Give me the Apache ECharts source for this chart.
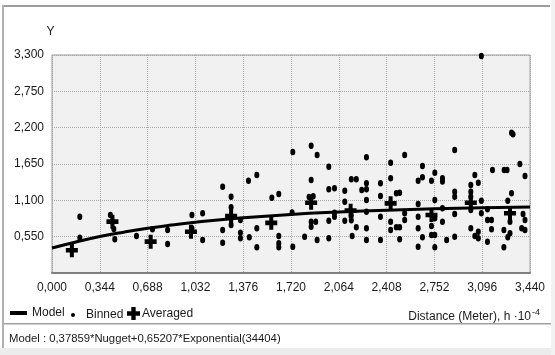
<!DOCTYPE html>
<html>
<head>
<meta charset="utf-8">
<script src="https://cdn.jsdelivr.net/npm/echarts@6/dist/echarts.min.js"></script>
<style>
html,body{margin:0;padding:0;background:#fff;}
#c{width:555px;height:355px;}
</style>
</head>
<body>
<div id="c"></div>
<script>
// x tick labels (distance, h·10^-4) and y tick labels
const xTicks = ['0,000','0,344','0,688','1,032','1,376','1,720','2,064','2,408','2,752','3,096','3,440'];
const yTicks = ['0,550','1,100','1,650','2,200','2,750','3,300'];

// Binned semivariance cloud
const binnedX = [0.200,0.200,0.420,0.435,0.445,0.452,0.608,0.723,0.832,0.832,1.007,1.007,1.084,1.084,1.228,1.228,1.228,1.289,1.289,1.289,1.356,1.356,1.356,1.414,1.474,1.474,1.474,1.420,1.582,1.632,1.632,1.632,1.632,1.733,1.728,1.733,1.908,1.865,1.992,1.865,1.850,1.880,1.865,1.865,1.898,1.818,1.908,1.992,2.033,1.992,1.992,2.033,2.033,2.107,2.107,2.107,2.154,2.190,2.154,2.154,2.160,2.190,2.263,2.263,2.263,2.263,2.263,2.263,2.263,2.229,2.364,2.364,2.364,2.364,2.437,2.437,2.538,2.478,2.502,2.437,2.437,2.478,2.502,2.502,2.538,2.538,2.666,2.666,2.635,2.755,2.731,2.810,2.810,2.635,2.635,2.635,2.666,2.635,2.755,2.755,2.731,2.755,2.731,2.755,2.810,2.810,2.840,2.898,2.898,2.898,2.898,2.898,3.043,3.068,3.014,3.014,3.014,3.014,3.014,3.090,3.090,3.068,3.068,3.043,3.090,3.134,3.134,3.163,3.163,3.134,3.170,3.254,3.275,3.252,3.252,3.307,3.318,3.307,3.280,3.296,3.296,3.280,3.367,3.404,3.390,3.404,3.380,3.404];
const binnedY = [0.852,0.534,0.878,0.777,0.666,0.510,0.560,0.662,0.651,0.439,0.878,0.677,0.904,0.500,1.307,0.651,0.459,1.155,0.995,0.727,0.802,0.610,0.525,1.398,1.484,0.677,0.389,0.540,1.140,1.196,0.560,0.449,0.389,0.398,0.914,1.830,1.787,1.927,1.609,1.408,1.150,1.160,0.777,0.701,0.777,0.550,0.500,1.267,1.282,0.792,0.525,0.913,0.852,1.246,1.080,0.792,1.418,1.418,0.870,0.800,0.560,0.692,1.752,1.358,1.267,1.105,0.929,0.677,0.500,1.257,1.358,1.166,0.852,0.500,1.670,1.434,1.787,1.206,1.216,0.777,0.651,0.692,0.692,0.510,0.904,0.802,1.620,1.449,1.398,1.519,1.398,1.434,1.384,1.045,0.852,0.677,0.540,0.398,1.105,0.828,0.712,0.575,0.575,0.389,0.979,0.777,0.500,1.863,1.231,1.155,0.893,0.550,1.484,1.367,1.332,1.231,1.155,0.954,0.677,1.095,0.904,0.625,0.525,0.560,3.285,0.964,0.802,0.802,0.662,0.474,1.559,1.559,1.559,0.651,0.389,2.124,2.100,1.206,1.095,0.777,0.601,0.540,1.650,1.468,0.893,0.802,0.677,0.651];

// Averaged values per lag
const averagedX = [0.143,0.435,0.710,1.000,1.289,1.578,1.865,2.149,2.437,2.731,3.014,3.296];
const averagedY = [0.345,0.777,0.474,0.625,0.863,0.760,1.064,0.944,1.055,0.878,1.064,0.904];

// Model curve
const modelX = [0.000,0.172,0.344,0.516,0.688,0.860,1.032,1.376,1.720,2.064,2.408,2.752,3.096,3.440];
const modelY = [0.379,0.470,0.552,0.618,0.676,0.725,0.768,0.836,0.887,0.923,0.951,0.972,0.987,0.999];

const FONT = "'Liberation Sans',Arial,sans-serif";
const TXT = '#1a1a1a';

const chart = echarts.init(document.getElementById('c'), null, {renderer:'canvas'});
const zip = (a,b) => a.map((v,i)=>[v,b[i]]);
const plusPath = 'path://M4,0 H8 V4 H12 V8 H8 V12 H4 V8 H0 V4 H4 Z';

chart.setOption({
  animation:false,
  backgroundColor:'#ffffff',
  grid:{left:52, top:55, right:25, bottom:82, show:true, backgroundColor:'#f1f1f1', borderColor:'#9a9a9a', borderWidth:1},
  xAxis:{
    type:'value', min:0, max:3.44, interval:0.344,
    axisLine:{show:true, lineStyle:{color:'#808080', width:2}},
    axisTick:{show:false},
    splitLine:{show:true, lineStyle:{color:'#a8a8a8', type:'dotted', width:1}},
    axisLabel:{margin:9, color:TXT, fontFamily:FONT, fontSize:12,
      formatter:(v)=>{const i=Math.round(v/0.344); return xTicks[i]||'';}}
  },
  yAxis:{
    type:'value', min:0, max:3.3, interval:0.55,
    name:'Y', nameLocation:'end', nameGap:17,
    nameTextStyle:{color:TXT, fontFamily:FONT, fontSize:12, align:'center', padding:[0,0,0,-3]},
    axisLine:{show:false}, axisTick:{show:false},
    splitLine:{show:true, lineStyle:{color:'#a8a8a8', type:'dotted', width:1}},
    axisLabel:{margin:8, color:TXT, fontFamily:FONT, fontSize:12,
      formatter:(v)=>{const i=Math.round(v/0.55); return i>0 ? (yTicks[i-1]||'') : '';}}
  },
  legend:[
    {data:['Model'], left:10, top:307, padding:0, itemWidth:17, itemHeight:4, icon:'rect', itemGap:0,
      textStyle:{color:TXT, fontFamily:FONT, fontSize:12, padding:[0,0,0,0]}},
    {data:['Binned'], left:71, top:309, padding:0, itemWidth:4, itemHeight:4, icon:'circle', itemGap:0,
      textStyle:{color:TXT, fontFamily:FONT, fontSize:12, padding:[0,0,0,6]}},
    {data:['Averaged'], left:127, top:307, padding:0, itemWidth:13, itemHeight:14, icon:plusPath, itemGap:0,
      textStyle:{color:TXT, fontFamily:FONT, fontSize:12, padding:[0,0,0,-3]}}
  ],
  title:[
    {text:'Distance (Meter), h ·10{s|-4}', right:10, top:303,
      textStyle:{color:TXT, fontFamily:FONT, fontSize:12, fontWeight:'normal',
        rich:{s:{fontFamily:FONT, fontSize:9, color:TXT, verticalAlign:'top', padding:[0,0,8,1]}}}},
    {text:'Model : 0,37859*Nugget+0,65207*Exponential(34404)', left:4, top:328,
      textStyle:{color:TXT, fontFamily:FONT, fontSize:11.3, fontWeight:'normal'}}
  ],
  graphic:[
    {type:'rect', shape:{x:3, y:5, width:547, height:2}, style:{fill:'#9c9c9c'}, silent:true},
    {type:'rect', shape:{x:2, y:5, width:2, height:350}, style:{fill:'#b0b0b0'}, silent:true},
    {type:'rect', shape:{x:4, y:323, width:547, height:1.5}, style:{fill:'#a0a0a0'}, silent:true},
    {type:'rect', shape:{x:0, y:348, width:555, height:7}, style:{fill:'#ececec'}, silent:true},
    {type:'rect', shape:{x:551, y:0, width:4, height:355}, style:{fill:'#f2f2f2'}, silent:true}
  ],
  series:[
    {name:'Binned', type:'scatter', data:zip(binnedX,binnedY), symbol:'circle', symbolSize:[5,6.5],
      itemStyle:{color:'#000', opacity:1}, z:3},
    {name:'Averaged', type:'scatter', data:zip(averagedX,averagedY), symbol:plusPath, symbolSize:[12,14],
      itemStyle:{color:'#000', opacity:1}, z:4},
    {name:'Model', type:'line', data:zip(modelX,modelY), smooth:true, showSymbol:false, symbol:'none',
      lineStyle:{color:'#000', width:3}, itemStyle:{color:'#000'}, z:5}
  ]
});
</script>
</body>
</html>
